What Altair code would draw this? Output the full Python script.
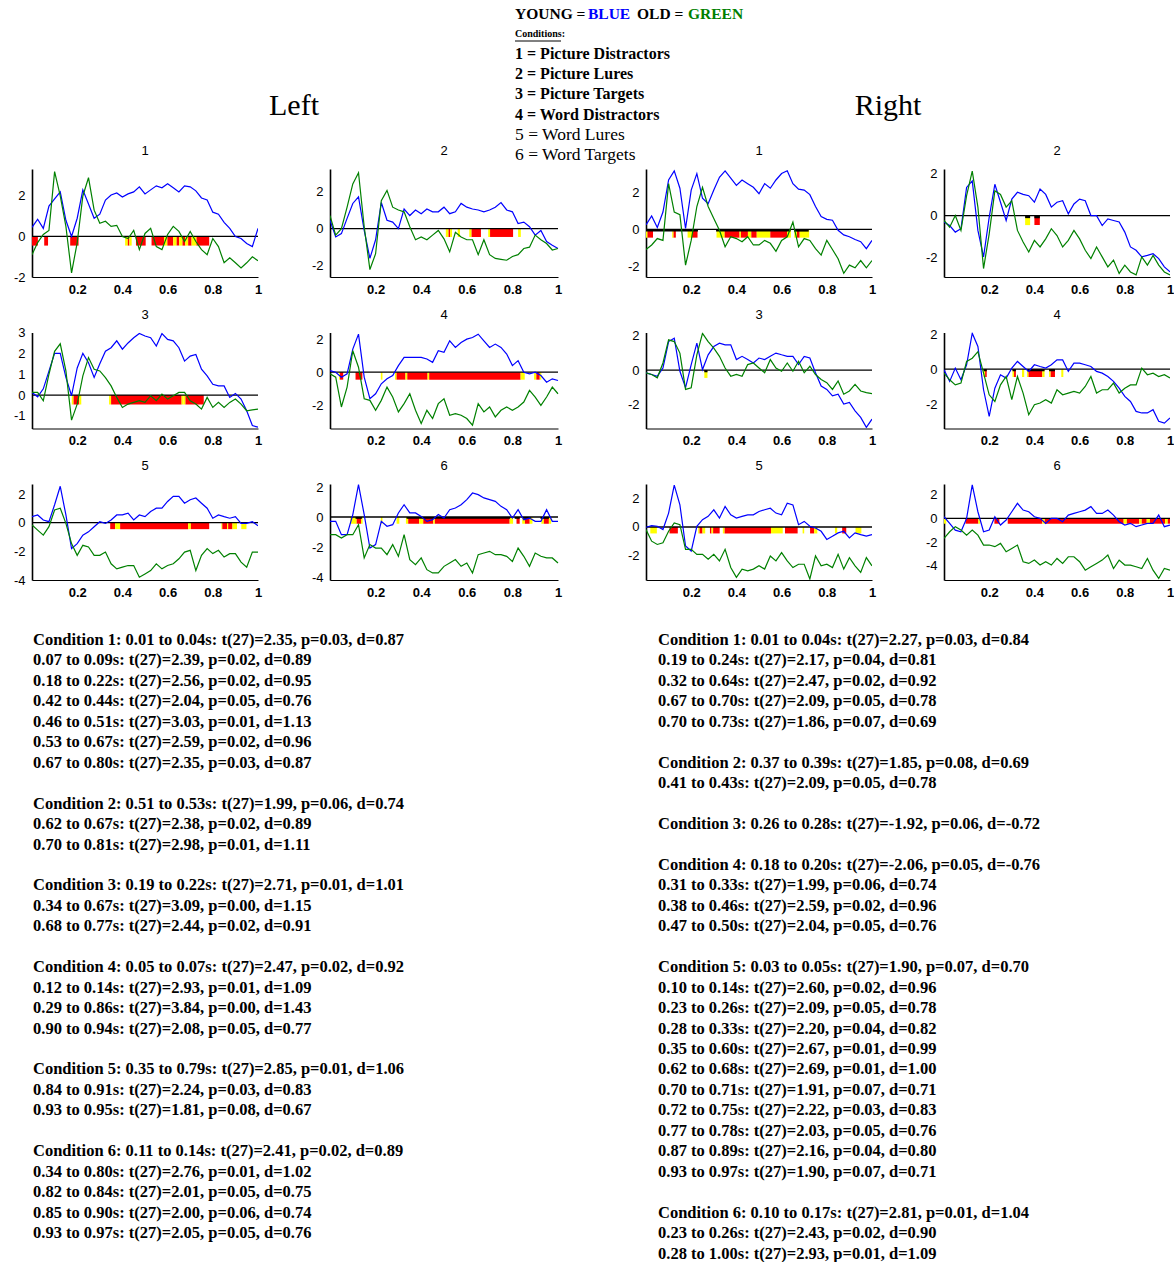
import altair as alt
import pandas as pd

TIME = [0.0, 0.025, 0.05, 0.075, 0.1, 0.125, 0.15, 0.175, 0.2, 0.225, 0.25, 0.275, 0.3, 0.325,
        0.35, 0.375, 0.4, 0.425, 0.45, 0.475, 0.5, 0.525, 0.55, 0.575, 0.6, 0.625, 0.65, 0.675,
        0.7, 0.725, 0.75, 0.775, 0.8, 0.825, 0.85, 0.875, 0.9, 0.925, 0.95, 0.975, 1.0]
XTICKS = [0.2, 0.4, 0.6, 0.8, 1]

# ---------------- Left hemisphere ----------------
L1_BLUE = [0.45, 0.85, 0.4, 1.5, 1.85, 2.2, 0.8, 0.0, 0.9, 2.3, 1.6, 0.9, 1.1, 1.8, 2.05, 2.15, 1.95, 2.1, 2.2, 2.45, 2.1, 2.3, 2.5, 2.4, 2.6, 2.4, 2.2, 2.5, 2.45, 2.25, 1.9, 1.8, 1.2, 1.1, 0.7, 0.4, 0.0, -0.1, -0.35, -0.5, 0.4]
L1_GREEN = [-0.9, -0.3, 0.1, 0.3, 3.2, 2.0, 0.5, -1.8, -0.3, 2.0, 2.9, 1.3, 0.65, 0.75, 0.5, 0.55, 0.0, -0.1, 0.3, -0.65, 0.15, 0.4, -0.5, -0.65, 0.1, 0.5, 0.25, -0.25, 0.25, -0.25, -0.65, -0.9, -0.1, -0.5, -1.3, -1.05, -1.3, -1.55, -1.3, -1.0, -1.2]
L2_BLUE = [0.45, -0.45, -0.27, 0.55, 1.35, 1.7, -0.1, -1.6, -0.6, 1.4, 0.45, 0.35, 0.0, 1.05, 0.7, 1.0, 0.8, 1.05, 0.9, 0.9, 1.15, 0.8, 0.9, 1.35, 1.15, 1.05, 1.0, 0.9, 1.0, 1.15, 1.4, 1.0, 0.9, 0.27, 0.35, 0.1, -0.35, -0.1, -0.7, -0.9, -1.07]
L2_GREEN = [0.7, -0.35, 0.0, 1.15, 2.4, 3.0, 0.1, -2.2, -1.35, 1.5, 2.05, 1.15, 1.0, 0.9, 0.1, -0.6, -0.45, -0.6, -0.35, -0.1, -0.55, -1.25, -0.2, -0.45, -0.6, -0.6, -1.4, -0.6, -1.4, -1.6, -1.65, -1.7, -1.5, -1.4, -1.07, -1.0, -0.35, -0.6, -0.8, -1.15, -1.07]
L3_BLUE = [0.13, -0.08, 0.3, 1.15, 2.0, 2.0, 0.85, -0.03, 1.3, 2.0, 1.55, 0.85, 1.5, 2.1, 2.27, 2.6, 2.2, 2.5, 2.75, 2.95, 2.83, 2.75, 2.35, 2.95, 2.67, 2.6, 2.27, 1.63, 1.87, 1.95, 1.24, 0.92, 0.52, 0.44, 0.44, -0.11, 0.08, -0.19, -0.75, -1.46, -1.54]
L3_GREEN = [0.13, 0.13, -0.27, 1.0, 2.1, 2.46, 1.16, -1.2, -0.43, 0.92, 1.8, 1.24, 1.16, 0.84, 0.44, -0.11, -0.59, -0.43, -0.35, -0.27, -0.35, -0.03, -0.27, 0.05, -0.19, -0.03, 0.13, 0.13, -0.27, -0.43, -0.67, -0.11, -0.59, -0.35, -0.59, -0.35, -0.19, -0.43, -0.75, -0.71, -0.67]
L4_BLUE = [0.1, 0.0, -0.3, -0.1, 1.4, 2.3, -0.3, -1.6, -1.3, -0.7, -0.4, -0.2, 0.4, 0.9, 0.9, 0.9, 0.9, 0.8, 0.6, 1.3, 1.2, 1.9, 1.5, 1.8, 2.0, 2.1, 2.3, 1.9, 1.5, 1.7, 1.5, 1.1, 0.4, 0.7, 0.0, -0.1, 0.0, -0.2, -0.6, -0.4, -0.5]
L4_GREEN = [-0.1, -0.3, -2.1, -0.9, 1.3, 0.3, -1.6, -1.7, -2.3, -1.7, -0.9, -1.5, -2.4, -1.9, -1.3, -2.3, -3.1, -2.3, -2.8, -1.9, -1.6, -2.6, -2.5, -2.6, -2.8, -3.2, -1.9, -2.4, -2.1, -2.7, -2.3, -2.1, -2.3, -2.1, -1.8, -1.1, -1.5, -2.0, -1.5, -0.9, -1.3]
L5_BLUE = [0.42, 0.54, 0.19, 0.07, 1.25, 2.54, 0.54, -1.81, -1.46, -0.87, -0.64, -0.28, 0.07, -0.05, 0.19, 0.54, 0.54, 0.66, 0.19, 0.54, 0.42, 0.78, 1.01, 1.01, 1.48, 1.84, 1.84, 1.36, 1.6, 1.72, 1.36, 1.01, 0.31, 0.54, 0.42, 0.31, 0.42, -0.05, -0.05, 0.07, -0.21]
L5_GREEN = [-0.16, -0.52, -0.87, -0.28, 0.89, 1.01, -0.05, -1.46, -2.28, -1.58, -1.69, -2.28, -2.28, -2.05, -2.87, -3.22, -3.1, -2.99, -2.99, -3.81, -3.58, -3.34, -2.87, -3.22, -2.99, -2.87, -2.52, -2.05, -1.93, -3.34, -2.28, -1.81, -2.16, -1.93, -2.4, -2.16, -2.16, -2.75, -3.1, -2.05, -2.05]
L6_BLUE = [-0.29, -0.29, -1.18, -1.18, 0.16, 2.16, 0.16, -2.07, -1.84, -0.29, -0.62, -0.51, 0.27, 0.82, 0.27, 0.27, 0.04, -0.29, -0.18, 0.16, -0.07, 0.49, 0.6, 0.82, 1.16, 1.6, 1.49, 1.27, 1.16, 1.04, 0.71, 0.49, -0.07, 0.49, -0.18, -0.07, -0.29, -0.29, 0.49, -0.29, -0.29]
L6_GREEN = [-1.18, -1.18, -1.4, -1.18, -1.18, -0.51, -2.73, -1.84, -2.07, -2.07, -2.51, -1.84, -2.62, -1.18, -2.84, -3.18, -2.73, -3.51, -3.73, -3.73, -3.29, -3.07, -2.84, -3.29, -3.07, -3.73, -2.51, -2.4, -2.29, -2.51, -2.51, -2.62, -2.96, -2.07, -2.62, -3.29, -2.4, -2.62, -2.73, -2.73, -3.07]

# ---------------- Right hemisphere ----------------
R1_BLUE = [0.25, 0.73, 0.1, 0.95, 2.7, 3.2, 2.25, 0.05, 2.15, 3.05, 1.7, 1.4, 2.15, 2.85, 3.2, 2.8, 2.4, 2.7, 2.5, 2.3, 1.95, 2.5, 2.25, 2.7, 3.05, 3.2, 2.5, 2.2, 2.15, 1.9, 1.25, 0.7, 0.55, 0.5, -0.05, -0.3, -0.4, -0.55, -0.67, -1.05, -0.6]
R1_GREEN = [-1.1, -0.85, -0.5, -0.6, 2.5, 0.95, 0.8, -1.95, -0.6, 1.25, 2.3, 1.25, 0.6, -0.05, -0.95, -0.4, -0.5, -0.67, -0.4, -0.85, -0.85, -0.6, -0.76, -1.2, -0.6, -0.4, 0.4, -0.95, -0.5, -0.6, -1.05, -1.4, -0.6, -1.1, -1.6, -2.4, -1.95, -2.1, -1.7, -2.1, -1.7]
R2_BLUE = [-0.3, -0.47, -0.78, -0.62, 1.33, 1.64, -0.7, -1.95, -0.08, 1.48, 0.63, -0.23, 0.78, 1.1, 1.0, 0.94, 0.63, 1.25, 1.0, 0.4, 0.63, 0.7, 0.08, 0.55, 0.78, 0.7, 0.0, 0.0, -0.47, -0.16, -0.23, -0.3, -0.78, -1.48, -1.64, -1.95, -1.88, -1.8, -2.03, -2.42, -2.66]
R2_GREEN = [-0.23, -0.55, 0.0, -0.7, 0.94, 2.1, 0.4, -2.5, -0.86, 1.17, 1.0, 0.4, 0.7, -0.7, -1.25, -1.72, -1.17, -1.48, -1.1, -0.62, -0.94, -1.48, -1.17, -0.7, -1.1, -1.64, -2.03, -1.48, -1.95, -2.42, -2.1, -2.73, -2.34, -2.66, -2.8, -1.95, -2.34, -1.88, -2.34, -2.66, -2.8]
R3_BLUE = [-0.15, -0.25, -0.35, 0.13, 1.67, 1.87, -0.06, -1.02, 0.33, 1.58, 0.04, 0.9, 1.38, 1.58, 1.48, 1.48, 0.62, 0.81, 0.62, 0.42, 0.71, 0.62, 0.81, 1.0, 0.9, 0.81, 0.81, 0.33, 0.81, 0.71, -0.15, -0.92, -1.12, -1.5, -1.4, -1.98, -1.88, -2.37, -2.75, -3.33, -2.85]
R3_GREEN = [-0.15, -0.25, -0.44, 0.42, 1.77, 1.67, 1.0, -1.12, -1.02, 0.9, 2.15, 1.67, 1.29, 0.81, 0.13, -0.35, -0.25, -0.35, 0.33, 0.42, 0.13, -0.15, 0.62, 0.13, -0.06, 0.42, -0.06, 0.52, -0.15, 0.23, -0.25, -0.54, -0.73, -1.12, -0.63, -1.4, -1.21, -0.83, -1.21, -1.31, -1.37]
R4_BLUE = [-0.04, -0.7, 0.06, -0.61, 0.25, 2.06, 1.3, -1.18, -2.7, -1.09, -0.32, -0.51, 0.06, 0.44, 0.15, -0.13, 0.25, 0.15, 0.06, 0.25, 0.53, 0.53, -0.13, 0.34, 0.34, 0.25, 0.15, -0.13, -0.23, -0.42, -0.7, -1.09, -1.56, -1.85, -2.42, -2.51, -2.51, -2.32, -2.99, -3.09, -2.8]
R4_GREEN = [-0.23, -0.61, -0.9, -0.8, 0.44, 0.63, 1.0, -0.23, -1.47, -1.85, -0.9, -0.42, -1.75, -0.42, -1.37, -2.61, -2.04, -1.94, -1.75, -1.94, -1.18, -1.47, -1.37, -1.28, -1.37, -0.99, -0.42, -1.37, -1.18, -1.18, -0.8, -1.37, -1.09, -0.9, -0.9, 0.06, -0.32, -0.23, -0.42, -0.32, -0.51]
R5_BLUE = [-0.02, 0.09, 0.05, -0.18, 0.97, 2.92, 1.54, -1.33, -1.68, 0.05, 0.51, 0.74, 1.2, 0.62, 1.43, 0.85, 0.62, 0.74, 0.85, 0.85, 1.08, 1.2, 1.31, 0.97, 0.85, 1.66, 1.54, 0.16, 0.39, 0.05, -0.07, -0.3, -0.87, -0.64, -0.41, -0.3, -0.76, -0.41, -0.53, -0.64, -0.53]
R5_GREEN = [-0.18, -0.99, -1.22, -1.1, -0.3, 0.28, 0.16, -1.56, -1.56, -1.91, -1.91, -2.25, -1.91, -2.37, -1.56, -2.83, -3.52, -2.94, -3.06, -2.94, -2.71, -2.94, -2.02, -2.37, -1.79, -2.37, -2.83, -2.6, -2.6, -3.63, -2.02, -2.71, -2.6, -2.83, -1.91, -2.94, -2.14, -2.71, -3.17, -2.14, -2.71]
R6_BLUE = [0.14, -0.42, -0.99, -1.13, 0.0, 2.82, 0.56, -1.13, -0.99, 0.14, -0.56, -0.14, 0.56, 1.27, 0.7, 0.56, 0.14, 0.0, -0.42, 0.0, 0.0, -0.28, 0.28, 0.42, 0.56, 0.7, 0.99, 0.42, 0.42, 0.7, 0.28, -0.28, -0.56, -0.42, -0.7, -0.56, -0.42, -0.42, 0.28, -0.7, -0.56]
R6_GREEN = [-1.69, -1.13, -0.7, -0.99, -1.41, -0.99, -1.41, -2.25, -2.25, -2.39, -2.11, -2.82, -2.54, -2.25, -3.66, -3.8, -3.52, -3.94, -3.66, -3.94, -3.38, -3.8, -3.24, -3.24, -3.66, -4.37, -4.08, -3.8, -3.52, -3.1, -4.23, -3.52, -3.94, -3.94, -4.08, -4.23, -3.38, -4.37, -5.07, -4.23, -4.37]

# ---------------- significance segments (start, end, r=p<.05 / y=p<.10) ----------------
L1_SIG = [(0.0, 0.026, "r"), (0.054, 0.071, "r"), (0.169, 0.206, "r"), (0.412, 0.424, "y"), (0.424, 0.431, "r"),
          (0.431, 0.441, "y"), (0.46, 0.503, "r"), (0.529, 0.584, "r"), (0.584, 0.599, "y"), (0.599, 0.625, "r"),
          (0.625, 0.64, "y"), (0.64, 0.651, "r"), (0.651, 0.666, "y"), (0.666, 0.678, "r"), (0.678, 0.691, "y"),
          (0.691, 0.706, "r"), (0.706, 0.728, "y"), (0.728, 0.784, "r")]
L2_SIG = [(0.508, 0.52, "y"), (0.52, 0.527, "r"), (0.527, 0.535, "y"), (0.56, 0.57, "y"), (0.611, 0.621, "y"),
          (0.621, 0.662, "r"), (0.694, 0.702, "y"), (0.702, 0.803, "r"), (0.825, 0.837, "y")]
L3_SIG = [(0.176, 0.184, "y"), (0.184, 0.209, "r"), (0.209, 0.218, "y"), (0.341, 0.35, "y"), (0.35, 0.662, "r"),
          (0.662, 0.671, "y"), (0.671, 0.679, "y"), (0.679, 0.76, "r")]
L4_SIG = [(0.04, 0.044, "y"), (0.044, 0.058, "r"), (0.112, 0.142, "r"), (0.223, 0.23, "y"), (0.285, 0.292, "y"),
          (0.292, 0.331, "r"), (0.331, 0.339, "y"), (0.339, 0.428, "r"), (0.428, 0.435, "y"), (0.435, 0.836, "r"),
          (0.836, 0.854, "y"), (0.895, 0.905, "y"), (0.905, 0.92, "r"), (0.92, 0.927, "y")]
L5_SIG = [(0.346, 0.368, "r"), (0.368, 0.39, "y"), (0.39, 0.691, "r"), (0.691, 0.703, "y"), (0.703, 0.784, "r"),
          (0.838, 0.842, "y"), (0.842, 0.863, "r"), (0.863, 0.868, "y"), (0.868, 0.887, "r"), (0.887, 0.907, "y"),
          (0.926, 0.949, "y")]
L6_SIG = [(0.088, 0.117, "y"), (0.117, 0.136, "r"), (0.136, 0.143, "y"), (0.223, 0.23, "y"), (0.292, 0.304, "y"),
          (0.333, 0.343, "y"), (0.343, 0.391, "r"), (0.391, 0.409, "y"), (0.409, 0.453, "r"), (0.453, 0.46, "y"),
          (0.46, 0.788, "r"), (0.788, 0.803, "y"), (0.818, 0.832, "r"), (0.843, 0.855, "y"), (0.855, 0.876, "r"),
          (0.876, 0.888, "y"), (0.927, 0.938, "y"), (0.938, 0.96, "r"), (0.96, 0.97, "y")]
R1_SIG = [(0.0, 0.007, "y"), (0.007, 0.031, "r"), (0.116, 0.122, "y"), (0.122, 0.132, "r"), (0.184, 0.204, "y"),
          (0.204, 0.228, "r"), (0.312, 0.348, "y"), (0.348, 0.414, "r"), (0.414, 0.42, "y"), (0.42, 0.451, "r"),
          (0.451, 0.466, "y"), (0.466, 0.49, "r"), (0.49, 0.55, "y"), (0.55, 0.624, "r"), (0.624, 0.641, "y"),
          (0.656, 0.668, "y"), (0.668, 0.68, "r"), (0.68, 0.722, "y")]
R2_SIG = [(0.359, 0.381, "y"), (0.40, 0.424, "r")]
R3_SIG = [(0.258, 0.272, "y")]
R4_SIG = [(0.175, 0.182, "y"), (0.182, 0.189, "r"), (0.303, 0.31, "y"), (0.31, 0.318, "r"), (0.345, 0.355, "y"),
          (0.367, 0.374, "y"), (0.374, 0.435, "r"), (0.435, 0.445, "y"), (0.465, 0.472, "y"), (0.472, 0.491, "r"),
          (0.519, 0.528, "y")]
R5_SIG = [(0.019, 0.048, "y"), (0.104, 0.141, "r"), (0.231, 0.237, "y"), (0.237, 0.25, "r"), (0.25, 0.262, "y"),
          (0.283, 0.29, "r"), (0.29, 0.297, "y"), (0.297, 0.326, "r"), (0.34, 0.348, "y"), (0.348, 0.553, "r"),
          (0.553, 0.605, "y"), (0.615, 0.671, "r"), (0.693, 0.7, "y"), (0.726, 0.744, "r"), (0.744, 0.758, "y"),
          (0.836, 0.846, "y"), (0.868, 0.886, "r"), (0.927, 0.953, "y")]
R6_SIG = [(0.0, 0.01, "y"), (0.095, 0.152, "r"), (0.152, 0.16, "y"), (0.223, 0.245, "r"), (0.282, 0.435, "r"),
          (0.435, 0.446, "y"), (0.446, 0.795, "r"), (0.795, 0.809, "y"), (0.809, 0.864, "r"), (0.864, 0.875, "y"),
          (0.875, 0.897, "r"), (0.897, 0.911, "y"), (0.911, 0.978, "r"), (0.978, 0.99, "y"), (0.99, 1.0, "r")]

# black caps (strongest significance) drawn on top of some segments
R1_CAP = [(0.0, 0.23), (0.31, 0.64), (0.655, 0.72)]
R2_CAP = [(0.359, 0.381), (0.40, 0.424)]
R3_CAP = [(0.258, 0.272)]
R4_CAP = [(0.175, 0.189), (0.303, 0.318), (0.367, 0.445), (0.465, 0.491)]
L6_CAP = [(0.112, 0.14), (0.336, 0.79), (0.81, 0.832), (0.846, 0.88), (0.923, 0.96)]

HEADER_BOLD = ["1 = Picture Distractors", "2 = Picture Lures", "3 = Picture Targets", "4 = Word Distractors"]
HEADER_PLAIN = ["5 = Word Lures", "6 = Word Targets"]

LEFT_TEXT = [
    "Condition 1: 0.01 to 0.04s: t(27)=2.35, p=0.03, d=0.87",
    "0.07 to 0.09s: t(27)=2.39, p=0.02, d=0.89",
    "0.18 to 0.22s: t(27)=2.56, p=0.02, d=0.95",
    "0.42 to 0.44s: t(27)=2.04, p=0.05, d=0.76",
    "0.46 to 0.51s: t(27)=3.03, p=0.01, d=1.13",
    "0.53 to 0.67s: t(27)=2.59, p=0.02, d=0.96",
    "0.67 to 0.80s: t(27)=2.35, p=0.03, d=0.87",
    "",
    "Condition 2: 0.51 to 0.53s: t(27)=1.99, p=0.06, d=0.74",
    "0.62 to 0.67s: t(27)=2.38, p=0.02, d=0.89",
    "0.70 to 0.81s: t(27)=2.98, p=0.01, d=1.11",
    "",
    "Condition 3: 0.19 to 0.22s: t(27)=2.71, p=0.01, d=1.01",
    "0.34 to 0.67s: t(27)=3.09, p=0.00, d=1.15",
    "0.68 to 0.77s: t(27)=2.44, p=0.02, d=0.91",
    "",
    "Condition 4: 0.05 to 0.07s: t(27)=2.47, p=0.02, d=0.92",
    "0.12 to 0.14s: t(27)=2.93, p=0.01, d=1.09",
    "0.29 to 0.86s: t(27)=3.84, p=0.00, d=1.43",
    "0.90 to 0.94s: t(27)=2.08, p=0.05, d=0.77",
    "",
    "Condition 5: 0.35 to 0.79s: t(27)=2.85, p=0.01, d=1.06",
    "0.84 to 0.91s: t(27)=2.24, p=0.03, d=0.83",
    "0.93 to 0.95s: t(27)=1.81, p=0.08, d=0.67",
    "",
    "Condition 6: 0.11 to 0.14s: t(27)=2.41, p=0.02, d=0.89",
    "0.34 to 0.80s: t(27)=2.76, p=0.01, d=1.02",
    "0.82 to 0.84s: t(27)=2.01, p=0.05, d=0.75",
    "0.85 to 0.90s: t(27)=2.00, p=0.06, d=0.74",
    "0.93 to 0.97s: t(27)=2.05, p=0.05, d=0.76",
]
RIGHT_TEXT = [
    "Condition 1: 0.01 to 0.04s: t(27)=2.27, p=0.03, d=0.84",
    "0.19 to 0.24s: t(27)=2.17, p=0.04, d=0.81",
    "0.32 to 0.64s: t(27)=2.47, p=0.02, d=0.92",
    "0.67 to 0.70s: t(27)=2.09, p=0.05, d=0.78",
    "0.70 to 0.73s: t(27)=1.86, p=0.07, d=0.69",
    "",
    "Condition 2: 0.37 to 0.39s: t(27)=1.85, p=0.08, d=0.69",
    "0.41 to 0.43s: t(27)=2.09, p=0.05, d=0.78",
    "",
    "Condition 3: 0.26 to 0.28s: t(27)=-1.92, p=0.06, d=-0.72",
    "",
    "Condition 4: 0.18 to 0.20s: t(27)=-2.06, p=0.05, d=-0.76",
    "0.31 to 0.33s: t(27)=1.99, p=0.06, d=0.74",
    "0.38 to 0.46s: t(27)=2.59, p=0.02, d=0.96",
    "0.47 to 0.50s: t(27)=2.04, p=0.05, d=0.76",
    "",
    "Condition 5: 0.03 to 0.05s: t(27)=1.90, p=0.07, d=0.70",
    "0.10 to 0.14s: t(27)=2.60, p=0.02, d=0.96",
    "0.23 to 0.26s: t(27)=2.09, p=0.05, d=0.78",
    "0.28 to 0.33s: t(27)=2.20, p=0.04, d=0.82",
    "0.35 to 0.60s: t(27)=2.67, p=0.01, d=0.99",
    "0.62 to 0.68s: t(27)=2.69, p=0.01, d=1.00",
    "0.70 to 0.71s: t(27)=1.91, p=0.07, d=0.71",
    "0.72 to 0.75s: t(27)=2.22, p=0.03, d=0.83",
    "0.77 to 0.78s: t(27)=2.03, p=0.05, d=0.76",
    "0.87 to 0.89s: t(27)=2.16, p=0.04, d=0.80",
    "0.93 to 0.97s: t(27)=1.90, p=0.07, d=0.71",
    "",
    "Condition 6: 0.10 to 0.17s: t(27)=2.81, p=0.01, d=1.04",
    "0.23 to 0.26s: t(27)=2.43, p=0.02, d=0.90",
    "0.28 to 1.00s: t(27)=2.93, p=0.01, d=1.09",
]

SERIES_COLORS = ["#0000ff", "#008000"]
SIG_COLORS = {"r": "#ff0000", "y": "#ffff00"}
SIG_DEPTH = -0.45
CAP_DEPTH = -0.12
SERIF = "Liberation Serif"
SANS = "Liberation Sans"


def panel(title, blue, green, sig, caps, ydom, yticks, height, width, xspan, extra=()):
    xs = alt.Scale(domain=[0, 1], range=[0, xspan], nice=False, zero=False)
    ys = alt.Scale(domain=ydom, nice=False, zero=False)
    xaxis = alt.Axis(values=XTICKS, labelExpr="'' + datum.value", title=None, grid=False, ticks=False,
                     tickSize=0, domainColor="black", domainWidth=1, labelFont=SANS, labelFontSize=13,
                     labelFontWeight="bold", labelColor="black", labelPadding=6, labelFlush=False,
                     labelOverlap=False)
    yaxis = alt.Axis(values=yticks, labelExpr="'' + datum.value", title=None, grid=False, ticks=False,
                     tickSize=0, domainColor="black", domainWidth=1.6, labelFont=SANS, labelFontSize=13,
                     labelColor="black", labelPadding=7, labelOverlap=False)
    sig_df = pd.DataFrame({"t0": [s[0] for s in sig], "t1": [s[1] for s in sig],
                           "col": [SIG_COLORS[s[2]] for s in sig]})
    sig_df["top"] = 0.0
    sig_df["bot"] = SIG_DEPTH
    layers = [alt.Chart(sig_df).mark_rect().encode(
        x=alt.X("t0:Q", scale=xs, axis=xaxis), x2="t1",
        y=alt.Y("top:Q", scale=ys, axis=yaxis), y2="bot",
        color=alt.Color("col:N", scale=None))]
    if caps:
        cap_df = pd.DataFrame({"t0": [c[0] for c in caps], "t1": [c[1] for c in caps]})
        cap_df["top"] = 0.0
        cap_df["bot"] = CAP_DEPTH
        layers.append(alt.Chart(cap_df).mark_rect(color="black").encode(
            x=alt.X("t0:Q", scale=xs, axis=xaxis), x2="t1",
            y=alt.Y("top:Q", scale=ys, axis=yaxis), y2="bot"))
    zero_df = pd.DataFrame({"a": [0.0], "b": [1.0], "z": [0.0]})
    layers.append(alt.Chart(zero_df).mark_rule(color="black", strokeWidth=1.3).encode(
        x=alt.X("a:Q", scale=xs, axis=xaxis), x2="b",
        y=alt.Y("z:Q", scale=ys, axis=yaxis)))
    n = len(TIME)
    line_df = pd.DataFrame({"t": TIME + TIME, "v": blue + green,
                            "grp": ["Young"] * n + ["Old"] * n})
    layers.append(alt.Chart(line_df).mark_line(strokeWidth=1.2, clip=True).encode(
        x=alt.X("t:Q", scale=xs, axis=xaxis),
        y=alt.Y("v:Q", scale=ys, axis=yaxis),
        color=alt.Color("grp:N", scale=alt.Scale(domain=["Young", "Old"], range=SERIES_COLORS), legend=None)))
    # panel number above the plot
    layers.append(alt.Chart(pd.DataFrame({"txt": [title]})).mark_text(
        font=SANS, fontSize=13, color="black", align="center", baseline="middle").encode(
        x=alt.value(xspan / 2), y=alt.value(-18), text="txt:N"))
    layers.extend(extra)
    return alt.layer(*layers).properties(width=width, height=height)


one = pd.DataFrame({"k": [0]})

# invisible anchor fixing the page origin, plus the "Left"/"Right" headings
anchor = alt.Chart(one).mark_rule(opacity=0).encode(
    x=alt.value(-32), x2=alt.value(-31), y=alt.value(-169), y2=alt.value(-168))
left_head = alt.Chart(pd.DataFrame({"txt": ["Left"]})).mark_text(
    font=SERIF, fontSize=30, color="black", align="center", baseline="middle").encode(
    x=alt.value(262), y=alt.value(-63), text="txt:N")
right_head = alt.Chart(pd.DataFrame({"txt": ["Right"]})).mark_text(
    font=SERIF, fontSize=30, color="black", align="center", baseline="middle").encode(
    x=alt.value(242), y=alt.value(-63), text="txt:N")

# header legend (attached to panel L2, whose plot origin is page x=330, y=169)
hx = 185
HDR_Y = "-155 + datum.row * 20.1"
bold_df = pd.DataFrame({"row": [2, 3, 4, 5], "txt": HEADER_BOLD})
plain_df = pd.DataFrame({"row": [6, 7], "txt": HEADER_PLAIN})
head_layers = [
    alt.Chart(bold_df).transform_calculate(py=HDR_Y).mark_text(
        align="left", baseline="middle", font=SERIF, fontWeight="bold", fontSize=16, color="black").encode(
        x=alt.value(hx), y=alt.Y("py:Q", scale=None), text="txt:N"),
    alt.Chart(plain_df).transform_calculate(py=HDR_Y).mark_text(
        align="left", baseline="middle", font=SERIF, fontSize=17.5, color="black").encode(
        x=alt.value(hx), y=alt.Y("py:Q", scale=None), text="txt:N"),
    alt.Chart(pd.DataFrame({"row": [1], "txt": ["Conditions:"]})).transform_calculate(py=HDR_Y).mark_text(
        align="left", baseline="middle", font=SERIF, fontWeight="bold", fontSize=10, color="black").encode(
        x=alt.value(hx), y=alt.Y("py:Q", scale=None), text="txt:N"),
    alt.Chart(one).mark_rule(color="black", strokeWidth=1).encode(
        x=alt.value(hx), x2=alt.value(hx + 46), y=alt.value(-128)),
]
for txt, xoff, col in [("YOUNG =", 0, "black"), ("BLUE", 73, "#0000ff"), ("OLD =", 122, "black"),
                       ("GREEN", 173, "#008000")]:
    head_layers.append(alt.Chart(pd.DataFrame({"row": [0], "txt": [txt]})).transform_calculate(py=HDR_Y).mark_text(
        align="left", baseline="middle", font=SERIF, fontWeight="bold", fontSize=15.5, color=col).encode(
        x=alt.value(hx + xoff), y=alt.Y("py:Q", scale=None), text="txt:N"))

# statistics text blocks (attached to bottom-row panels, plot origin page y=484)
TXT_Y = "156 + datum.row * 20.45"
ldf = pd.DataFrame({"row": list(range(len(LEFT_TEXT))), "txt": LEFT_TEXT})
ldf = ldf[ldf["txt"] != ""]
rdf = pd.DataFrame({"row": list(range(len(RIGHT_TEXT))), "txt": RIGHT_TEXT})
rdf = rdf[rdf["txt"] != ""]
left_block = alt.Chart(ldf).transform_calculate(py=TXT_Y).mark_text(
    align="left", baseline="middle", font=SERIF, fontWeight="bold", fontSize=16.5, color="black").encode(
    x=alt.value(1), y=alt.Y("py:Q", scale=None), text="txt:N")
right_block = alt.Chart(rdf).transform_calculate(py=TXT_Y).mark_text(
    align="left", baseline="middle", font=SERIF, fontWeight="bold", fontSize=16.5, color="black").encode(
    x=alt.value(12), y=alt.Y("py:Q", scale=None), text="txt:N")

T2 = [-2, 0, 2]
T4 = [-4, -2, 0, 2]
panels = [
    panel("1", L1_BLUE, L1_GREEN, L1_SIG, None, [-2.0, 3.33], T2, 108, 226, 226, extra=[anchor, left_head]),
    panel("2", L2_BLUE, L2_GREEN, L2_SIG, None, [-2.6, 3.2], T2, 108, 244, 228, extra=head_layers),
    panel("1", R1_BLUE, R1_GREEN, R1_SIG, R1_CAP, [-2.6, 3.3], T2, 108, 226, 226, extra=[right_head]),
    panel("2", R2_BLUE, R2_GREEN, R2_SIG, R2_CAP, [-2.9, 2.2], T2, 108, 226, 226),
    panel("3", L3_BLUE, L3_GREEN, L3_SIG, None, [-1.6, 3.0], [-1, 0, 1, 2, 3], 96, 226, 226),
    panel("4", L4_BLUE, L4_GREEN, L4_SIG, None, [-3.4, 2.4], T2, 96, 244, 228),
    panel("3", R3_BLUE, R3_GREEN, R3_SIG, R3_CAP, [-3.4, 2.2], T2, 96, 226, 226),
    panel("4", R4_BLUE, R4_GREEN, R4_SIG, R4_CAP, [-3.4, 2.1], T2, 96, 226, 226),
    panel("5", L5_BLUE, L5_GREEN, L5_SIG, None, [-4.0, 2.7], T4, 96, 226, 226, extra=[left_block]),
    panel("6", L6_BLUE, L6_GREEN, L6_SIG, L6_CAP, [-4.2, 2.2], T4, 96, 244, 228),
    panel("5", R5_BLUE, R5_GREEN, R5_SIG, None, [-3.7, 3.0], T2, 96, 226, 226, extra=[right_block]),
    panel("6", R6_BLUE, R6_GREEN, R6_SIG, None, [-5.2, 2.9], T4, 96, 226, 226),
]

chart = alt.concat(*panels, columns=4, spacing={"row": 55.5, "column": 72}, bounds="flush",
                   align="each").properties(padding=0).configure_view(stroke=None)

chart.save("out.html", embed_options={"renderer": "svg", "actions": False})
